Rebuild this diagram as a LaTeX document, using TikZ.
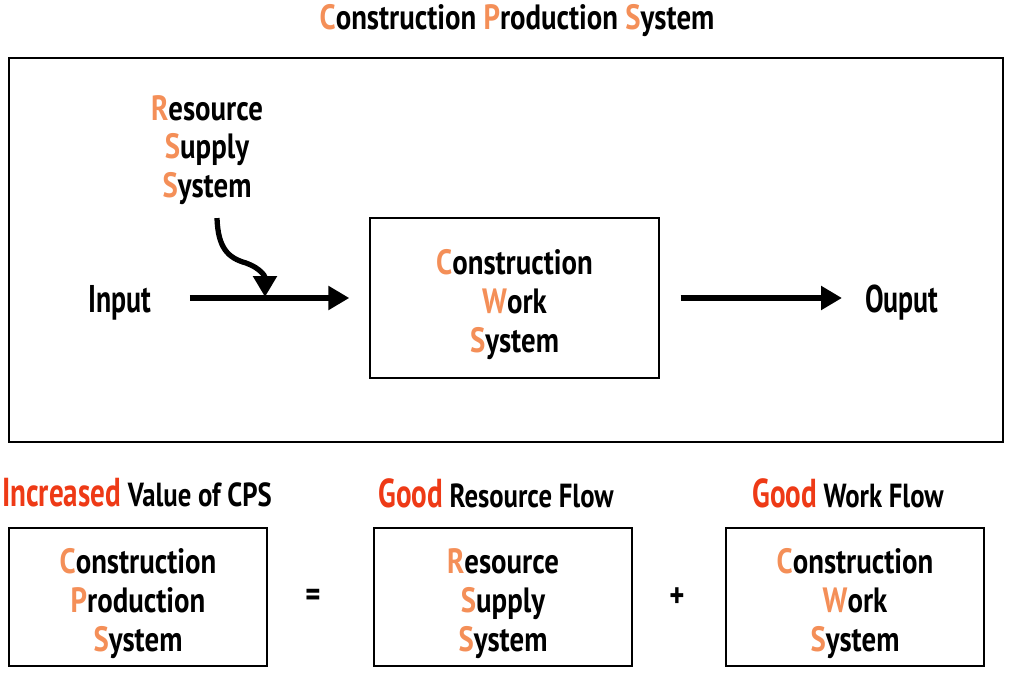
\documentclass[tikz,border=0pt]{standalone}
\usepackage{fontspec}
\usetikzlibrary{arrows.meta,positioning}
\newfontfamily\cpsfont[FakeStretch=0.82]{PT Sans}
\newfontfamily\cpsnarrow[FakeStretch=0.72]{PT Sans}
\newfontfamily\cpslabel[FakeStretch=0.8]{PT Sans}
\definecolor{cpsorange}{RGB}{244,143,88}
\definecolor{cpsred}{RGB}{238,58,22}
\newcommand{\ini}[1]{\textcolor{cpsorange}{#1}}
\newcommand{\hot}[1]{{\cpsnarrow\fontsize{23}{24}\selectfont\textcolor{cpsred}{#1}}}
% three centred lines, set a little low inside their box
\newcommand{\lowlines}[1]{\raisebox{-4.5pt}[\height][\depth]{\begin{tabular}{@{}c@{}}#1\end{tabular}}}

\begin{document}
\begin{tikzpicture}[x=0.02cm,y=-0.02cm,
  every node/.style={inner sep=0pt},
  txt/.style={font=\cpsfont\bfseries\fontsize{20}{22}\selectfont, align=center},
  bigtxt/.style={font=\cpsnarrow\bfseries\fontsize{22}{24}\selectfont},
  lbl/.style={font=\cpslabel\bfseries\fontsize{19}{22}\selectfont},
  sysbox/.style={font=\cpsfont\bfseries\fontsize{20}{22}\selectfont, draw, line width=0.8pt, minimum width=5.16cm, minimum height=2.76cm},
  flow/.style={line width=3pt, -{Triangle[length=0.42cm,width=0.46cm]}}
]
\useasboundingbox (0,0) rectangle (1011,678);

% upper part
\node[txt] (title) at (517,21) {\ini{C}onstruction \ini{P}roduction \ini{S}ystem};
\draw[line width=0.8pt] (9,58) rectangle (1003,442);

\node[txt] (rss) at (207,150) {\ini{R}esource\\\ini{S}upply\\\ini{S}ystem};
\node[bigtxt] (input) at (120,303) {Input};
\node[sysbox, minimum width=5.78cm, minimum height=3.2cm] (cws) at (514.5,298) {\lowlines{\ini{C}onstruction\\\ini{W}ork\\\ini{S}ystem}};
\node[bigtxt] (output) at (902,303) {Ouput};
\coordinate (drop) at (265,297);

\draw[flow, shorten <=0.76cm, shorten >=0.4cm] (input.east |- cws.west) -- (cws);
\draw[flow, shorten <=0.42cm, shorten >=0.46cm] (cws) -- (output.west |- cws.east);
\draw[flow] ([shift={(10,13)}]rss.south) .. controls (218,248) and (228,258) .. (246,263)
  .. controls (260,268) and (265,276) .. (drop);

% lower part
\node[lbl] (cpslbl) at (137,493) {\hot{Increased} Value of CPS};
\node[lbl] (rsslbl) at (496,493) {\hot{Good} Resource Flow};
\node[lbl] (cwslbl) at (848,493) {\hot{Good} Work Flow};

\node[sysbox] (cps) at (138,597) {\lowlines{\ini{C}onstruction\\\ini{P}roduction\\\ini{S}ystem}};
\node[sysbox] (rsys) at (503,597) {\lowlines{\ini{R}esource\\\ini{S}upply\\\ini{S}ystem}};
\node[sysbox] (wsys) at (855,597) {\lowlines{\ini{C}onstruction\\\ini{W}ork\\\ini{S}ystem}};
\node[txt] at (313,598) {=};
\node[txt] at (677,598) {+};
\end{tikzpicture}
\end{document}
